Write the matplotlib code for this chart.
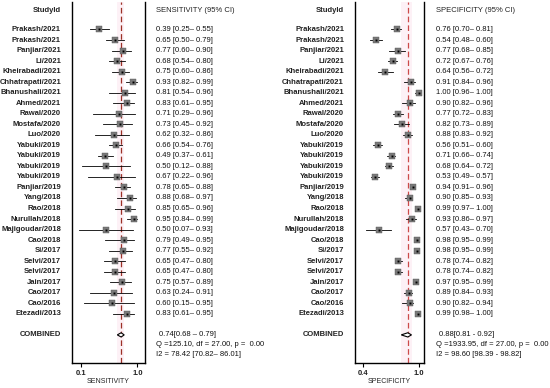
import matplotlib
matplotlib.use("Agg")
import matplotlib.pyplot as plt
from matplotlib.patches import Polygon
from matplotlib.transforms import blended_transform_factory

plt.rcParams['font.family'] = ['Liberation Sans', 'DejaVu Sans']

studies = ["Prakash/2021", "Prakash/2021", "Panjiar/2021", "Li/2021", "Kheirabadi/2021",
           "Chhatrapati/2021", "Bhanushali/2021", "Ahmed/2021", "Rawal/2020", "Mostafa/2020",
           "Luo/2020", "Yabuki/2019", "Yabuki/2019", "Yabuki/2019", "Yabuki/2019",
           "Panjiar/2019", "Yang/2018", "Rao/2018", "Nurullah/2018", "Majigoudar/2018",
           "Cao/2018", "Si/2017", "Selvi/2017", "Selvi/2017", "Jain/2017",
           "Cao/2017", "Cao/2016", "Etezadi/2013"]

sens = [0.39, 0.65, 0.77, 0.68, 0.75, 0.93, 0.81, 0.83, 0.71, 0.73, 0.62, 0.66, 0.49, 0.50,
        0.67, 0.78, 0.88, 0.85, 0.95, 0.50, 0.79, 0.77, 0.65, 0.65, 0.75, 0.63, 0.60, 0.83]
sens_lo = [0.25, 0.50, 0.60, 0.54, 0.60, 0.82, 0.54, 0.61, 0.29, 0.45, 0.32, 0.54, 0.37, 0.12,
           0.22, 0.65, 0.68, 0.65, 0.84, 0.07, 0.49, 0.55, 0.47, 0.47, 0.57, 0.24, 0.15, 0.61]
sens_hi = [0.55, 0.79, 0.90, 0.80, 0.86, 0.99, 0.96, 0.95, 0.96, 0.92, 0.86, 0.76, 0.61, 0.88,
           0.96, 0.88, 0.97, 0.96, 0.99, 0.93, 0.95, 0.92, 0.80, 0.80, 0.89, 0.91, 0.95, 0.95]

spec = [0.76, 0.54, 0.77, 0.72, 0.64, 0.91, 1.00, 0.90, 0.77, 0.82, 0.88, 0.56, 0.71, 0.68,
        0.53, 0.94, 0.90, 0.99, 0.93, 0.57, 0.98, 0.98, 0.78, 0.78, 0.97, 0.89, 0.90, 0.99]
spec_lo = [0.70, 0.48, 0.68, 0.67, 0.56, 0.84, 0.96, 0.82, 0.72, 0.73, 0.83, 0.51, 0.66, 0.64,
           0.49, 0.91, 0.85, 0.97, 0.86, 0.43, 0.95, 0.95, 0.74, 0.74, 0.95, 0.84, 0.82, 0.98]
spec_hi = [0.81, 0.60, 0.85, 0.76, 0.72, 0.96, 1.00, 0.96, 0.83, 0.89, 0.92, 0.60, 0.74, 0.72,
           0.57, 0.96, 0.93, 1.00, 0.97, 0.70, 0.99, 0.99, 0.82, 0.82, 0.99, 0.93, 0.94, 1.00]

# pooled estimates
sens_pool = (0.74, 0.68, 0.79)
spec_pool = (0.88, 0.81, 0.92)
sens_stats = ["0.74[0.68 \u2013 0.79]", "Q =125.10, df = 27.00, p =  0.00", "I2 = 78.42 [70.82\u2013 86.01]"]
spec_stats = ["0.88[0.81 - 0.92]", "Q =1933.95, df = 27.00, p =  0.00", "I2 = 98.60 [98.39 - 98.82]"]

fig = plt.figure(figsize=(5.5, 3.88), dpi=100)
W, H = 550.0, 388.0
FS = 5.5


def panel(left_px, right_px, label_x, text_x, xlim, ticks, est, lo, hi, pool, stats,
          name, line_color):
  ax = fig.add_axes([left_px / W, (H - 363) / H, (right_px - left_px) / W, 361 / H])
  n = len(est)
  rows = list(range(n))
  ax.set_xlim(*xlim)
  ax.set_ylim(31.67, -2.61)
  ax.axvspan(pool[1], pool[2], color='#fdf1f6', zorder=0, lw=0)
  ax.axvline(pool[0], color=line_color, ls=(0, (4.5, 2.5)), lw=0.9, zorder=1)
  for i in rows:
    ax.plot([lo[i], hi[i]], [i, i], color='black', lw=0.6, zorder=2)
  ax.plot(est, rows, ls='none', marker='s', ms=4.3, mfc='#7a7a7a', mec='#555555', mew=0.3, zorder=3)
  ax.plot(est, rows, ls='none', marker='s', ms=1.4, mfc='black', mec='black', mew=0, zorder=4)
  # combined diamond
  r = n + 1
  d = Polygon([(pool[1], r), (pool[0], r - 0.2), (pool[2], r), (pool[0], r + 0.2)],
              closed=True, facecolor='white', edgecolor='black', lw=0.8, zorder=5)
  ax.add_patch(d)

  ax.spines['top'].set_visible(False)
  for s in ['left', 'right', 'bottom']:
    ax.spines[s].set_linewidth(1.0)
  ax.set_yticks([])
  ax.set_xticks(ticks)
  ax.set_xticklabels(["%.1f" % t for t in ticks], fontsize=FS, fontweight='bold', color='#222222')
  ax.tick_params(axis='x', length=3, width=0.8, pad=2)
  ax.set_xlabel(name, fontsize=5, labelpad=1, color='#222222')

  tr = blended_transform_factory(fig.transFigure, ax.transData)
  ax.text(label_x / W, -1.85, "StudyId", transform=tr, ha='right', va='center',
          fontsize=FS, fontweight='bold', color='#222222')
  ax.text(text_x / W, -1.85, name + " (95% CI)", transform=tr, ha='left', va='center',
          fontsize=FS, color='#222222')
  for i in rows:
    ax.text(label_x / W, i, studies[i], transform=tr, ha='right', va='center',
            fontsize=FS, fontweight='bold', color='#222222')
    ax.text(text_x / W, i, "%.2f [%.2f\u2013 %.2f]" % (est[i], lo[i], hi[i]), transform=tr,
            ha='left', va='center', fontsize=FS, color='#111111')
  ax.text(label_x / W, r, "COMBINED", transform=tr, ha='right', va='center',
          fontsize=FS, fontweight='bold', color='#222222')
  ax.text((text_x + 3) / W, r, stats[0], transform=tr, ha='left', va='center',
          fontsize=FS, color='#111111')
  ax.text(text_x / W, r + 0.95, stats[1], transform=tr, ha='left', va='center',
          fontsize=FS, color='#111111')
  ax.text(text_x / W, r + 1.85, stats[2], transform=tr, ha='left', va='center',
          fontsize=FS, color='#111111')
  return ax


panel(72, 145, 61, 156, (-0.04, 1.12), [0.1, 1.0], sens, sens_lo, sens_hi,
      sens_pool, sens_stats, "SENSITIVITY", '#9c3026')
panel(355, 424, 344, 436, (0.314, 1.054), [0.4, 1.0], spec, spec_lo, spec_hi,
      spec_pool, spec_stats, "SPECIFICITY", '#cc4a4a')

fig.savefig("out.png", dpi=100)
